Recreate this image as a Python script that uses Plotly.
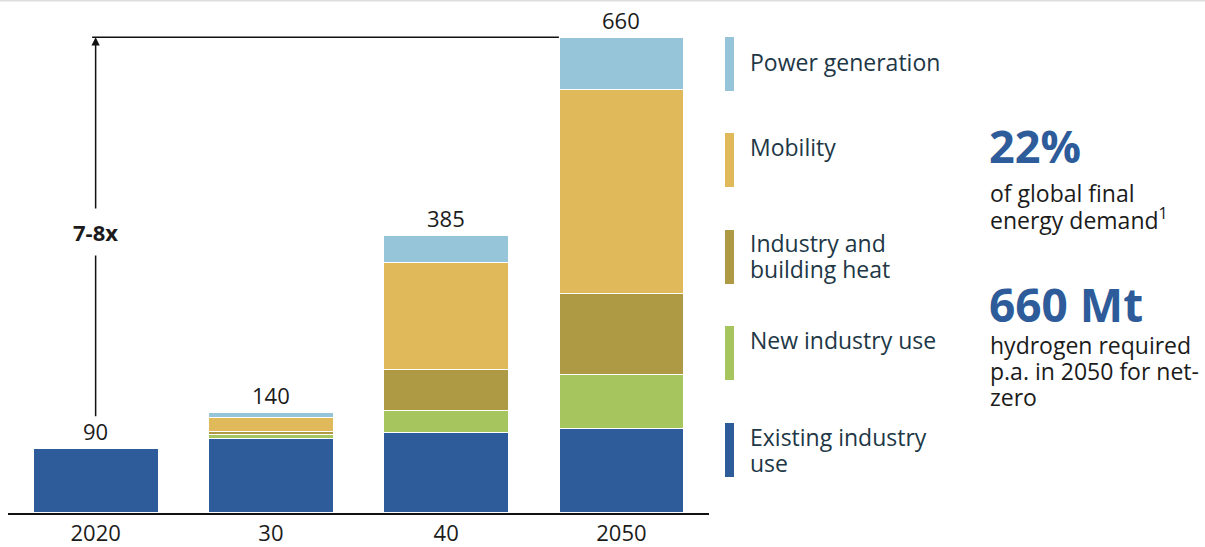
import plotly.graph_objects as go

# ── data ─────────────────────────────────────────────────────────────────────
years = ["2020", "30", "40", "2050"]
existing_industry = [89, 103, 112, 117]
new_industry = [0, 6, 30, 75]
industry_heat = [0, 4, 57, 113]
mobility = [0, 20, 148, 282]
power_generation = [1, 7, 38, 73]
totals = [90, 140, 385, 660]

# ── palette ──────────────────────────────────────────────────────────────────
C_EXIST = "#2E5B99"
C_NEW = "#A6C55F"
C_HEAT = "#AE9A45"
C_MOB = "#E0B95A"
C_POWER = "#96C4D9"
TXT_DARK = "#1B1B1B"
TXT_LEG = "#213746"
FONT = "Open Sans, sans-serif"

W, H = 1205, 547
L, R, T, B = 8, 496, 10, 34
PW, PH = W - L - R, H - T - B
BAR_W = 0.713


def px(x):  # pixel x -> paper x
    return (x - L) / PW


def py(y):  # pixel y -> paper y
    return (H - B - y) / PH


series = [
    ("Existing industry use", existing_industry, C_EXIST),
    ("New industry use", new_industry, C_NEW),
    ("Industry and building heat", industry_heat, C_HEAT),
    ("Mobility", mobility, C_MOB),
    ("Power generation", power_generation, C_POWER),
]

fig = go.Figure()
for name, vals, col in series:
    fig.add_trace(go.Bar(
        x=years, y=vals, name=name, width=BAR_W,
        marker=dict(color=col, line=dict(color="white", width=1.2)),
        hoverinfo="skip",
    ))

# totals above bars (category index, since the labels look numeric)
for i, tot in enumerate(totals):
    fig.add_annotation(x=i, y=tot, text=str(tot), showarrow=False,
                       yanchor="middle", yshift=17,
                       font=dict(family=FONT, size=22, color=TXT_DARK))

# growth arrow 2020 -> 2050
fig.add_annotation(x=0, y=totals[-1], ax=0, ay=132, xref="x", yref="y",
                   axref="x", ayref="y", text="", showarrow=True,
                   arrowhead=2, arrowsize=1.1, arrowwidth=1.5,
                   arrowcolor="#111111", standoff=0)
fig.add_shape(type="line", xref="x", yref="y", x0=-0.02, x1=3 - BAR_W / 2,
              y0=totals[-1], y1=totals[-1],
              line=dict(color="#111111", width=1.6))
fig.add_annotation(x=0, y=390, text="<b>7-8x</b>", showarrow=False,
                   bgcolor="white", borderpad=8,
                   font=dict(family=FONT, size=22, color=TXT_DARK))

# top rule
fig.add_shape(type="line", xref="paper", yref="paper",
              x0=px(0), x1=px(W), y0=py(0.8), y1=py(0.8),
              line=dict(color="#DDDDDD", width=1.5))

# custom legend on the right
legend_items = [
    (C_POWER, 37, 91, ["Power generation"], 62),
    (C_MOB, 133, 187, ["Mobility"], 147),
    (C_HEAT, 230, 284, ["Industry and", "building heat"], 243),
    (C_NEW, 326, 380, ["New industry use"], 340),
    (C_EXIST, 423, 477, ["Existing industry", "use"], 437),
]
for col, y0, y1, lines, ty in legend_items:
    fig.add_shape(type="rect", xref="paper", yref="paper",
                  x0=px(725), x1=px(734), y0=py(y1), y1=py(y0),
                  fillcolor=col, line=dict(width=0))
    for i, ln in enumerate(lines):
        fig.add_annotation(xref="paper", yref="paper", x=px(748), y=py(ty + i * 26),
                           text=ln, showarrow=False, xanchor="left", yanchor="middle",
                           font=dict(family=FONT, size=23, color=TXT_LEG))

# key figures
fig.add_annotation(xref="paper", yref="paper", x=px(987), y=py(145),
                   text="<b>22%</b>", showarrow=False, xanchor="left", yanchor="middle",
                   font=dict(family=FONT, size=45, color=C_EXIST))
for i, ln in enumerate(["of global final", "energy demand<sup>1</sup>"]):
    fig.add_annotation(xref="paper", yref="paper", x=px(988), y=py(193 + i * 26),
                       text=ln, showarrow=False, xanchor="left", yanchor="middle",
                       font=dict(family=FONT, size=23, color=TXT_DARK))
fig.add_annotation(xref="paper", yref="paper", x=px(987), y=py(304),
                   text="<b>660 Mt</b>", showarrow=False, xanchor="left", yanchor="middle",
                   font=dict(family=FONT, size=46, color=C_EXIST))
for i, ln in enumerate(["hydrogen required", "p.a. in 2050 for net-", "zero"]):
    fig.add_annotation(xref="paper", yref="paper", x=px(988), y=py(345 + i * 26),
                       text=ln, showarrow=False, xanchor="left", yanchor="middle",
                       font=dict(family=FONT, size=23, color=TXT_DARK))

fig.update_layout(
    width=W, height=H,
    barmode="stack",
    showlegend=False,
    plot_bgcolor="white", paper_bgcolor="white",
    margin=dict(l=L, r=R, t=T, b=B, autoexpand=False),
    font=dict(family=FONT, color=TXT_DARK),
)
fig.update_xaxes(type="category", range=[-0.5, 3.5], showgrid=False, zeroline=False,
                 showline=True, linecolor="#111111", linewidth=2,
                 ticks="", tickfont=dict(family=FONT, size=22, color=TXT_DARK))
fig.update_yaxes(range=[0, PH / 0.7208], visible=False, showgrid=False)

# page body has an 8px default margin; drop it so the figure sits at 0,0
fig.write_html("out.html", config={"displayModeBar": False},
               post_script="document.body.style.margin='0';")
